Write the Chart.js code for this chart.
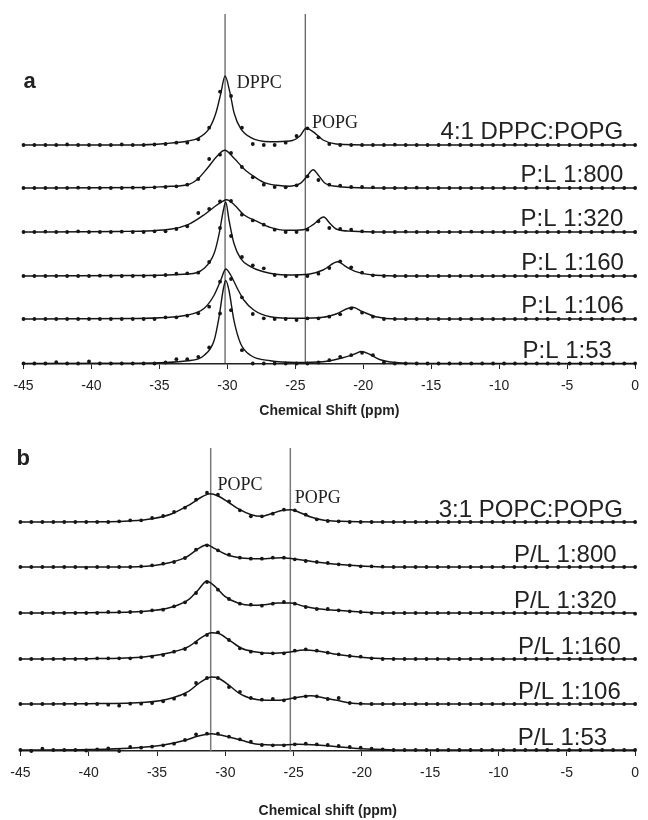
<!DOCTYPE html>
<html><head><meta charset="utf-8">
<script src="https://cdn.jsdelivr.net/npm/chart.js@4.4.1/dist/chart.umd.min.js"></script>
<style>
html,body{margin:0;padding:0;background:#fff;}
#wrap{position:relative;width:648px;height:820px;}
.panel{position:absolute;left:0;width:648px;}
#pa{top:0;height:420px;}
#pb{top:420px;height:400px;}
</style></head><body>
<div id="wrap">
  <div class="panel" id="pa"><canvas id="ca"></canvas></div>
  <div class="panel" id="pb"><canvas id="cb"></canvas></div>
</div>
<script>
// ---------- DATA ----------
const X_TICKS = [-45,-40,-35,-30,-25,-20,-15,-10,-5,0];
const X_DOTS = [-45,-44.20,-43.39,-42.59,-41.79,-40.98,-40.18,-39.38,-38.57,-37.77,-36.96,-36.16,-35.36,-34.55,-33.75,-32.95,-32.14,-31.34,-30.54,-29.73,-28.93,-28.13,-27.32,-26.52,-25.71,-24.91,-24.11,-23.30,-22.50,-21.70,-20.89,-20.09,-19.29,-18.48,-17.68,-16.88,-16.07,-15.27,-14.46,-13.66,-12.86,-12.05,-11.25,-10.45,-9.64,-8.84,-8.04,-7.23,-6.43,-5.63,-4.82,-4.02,-3.21,-2.41,-1.61,-0.80,0];

// panel a
const LABELS_A = ['4:1 DPPC:POPG','P:L 1:800','P:L 1:320','P:L 1:160','P:L 1:106','P:L 1:53'];
const OFFSETS_A = [219,176,132,88,45,0.5];
const PEAK_LINES_A = [-30.17,-24.27];
const PEAK_NAMES_A = ['DPPC','POPG'];

const CURVE_A_41 = [[-45,0],[-37,0],[-34.5,1.5],[-32.9,4],[-32.18,6.7],[-31.33,16.7],[-30.85,31.7],[-30.48,51.7],[-30.17,69],[-29.8,51.7],[-29.5,31.7],[-29.03,16.7],[-28.3,7.7],[-26.85,3.3],[-25.39,4],[-24.66,9],[-24.2,16.7],[-23.7,13.3],[-22.96,5],[-22.0,1],[-19,0],[0,0]];
const CURVE_A_800 = [[-45,0],[-36,0.5],[-34.5,1.5],[-32.91,3.3],[-32.18,9],[-31.46,20],[-30.73,32.3],[-30.19,37.7],[-29.52,30],[-28.79,19.3],[-28.06,11.7],[-27.33,5.7],[-26.36,2.7],[-25.39,1.7],[-24.66,4.3],[-24.18,11],[-23.69,18.3],[-23.33,13.3],[-22.84,5],[-22.0,1.7],[-19.57,0],[0,0]];
const CURVE_A_320 = [[-45,0],[-38,0.5],[-34.1,3],[-32.9,7.3],[-31.7,17.3],[-30.97,25],[-30.36,30.7],[-30.05,32.3],[-29.5,27.3],[-28.79,17.3],[-27.82,10.7],[-26.85,4.7],[-25.63,1.7],[-24.42,2.3],[-23.69,7.3],[-22.91,15],[-22.48,9],[-22.0,3],[-20.78,0.7],[-19,0],[0,0]];
const CURVE_A_160 = [[-45,0],[-37,0.5],[-32.9,2],[-31.7,7.7],[-30.97,22.7],[-30.6,42.7],[-30.29,66],[-30.12,74],[-29.88,56],[-29.52,32.7],[-29.03,17.7],[-28.3,9.3],[-27.33,4.3],[-25.63,1],[-23.93,2],[-22.96,6],[-21.87,14.3],[-21.27,9.3],[-20.54,4.3],[-19.08,0.7],[-17,0],[0,0]];
const CURVE_A_106 = [[-45,0],[-37,0.5],[-32.9,4],[-31.7,10.7],[-30.97,24],[-30.48,39],[-30.12,50],[-29.76,44],[-29.27,30.7],[-28.79,19],[-28.06,9],[-26.85,2.3],[-24.9,0.7],[-22.96,1.7],[-22.0,5],[-20.78,11.7],[-20.05,7.3],[-19.08,2.3],[-17.5,0],[0,0]];
const CURVE_A_53 = [[-45,0],[-37,0.3],[-32.9,2.7],[-31.7,8.3],[-30.97,23.3],[-30.61,46.7],[-30.29,75],[-30.12,83],[-29.88,73],[-29.52,43.3],[-29.03,20],[-28.3,8.3],[-26.85,2.7],[-24.9,1],[-22.96,1.7],[-21.5,5.7],[-20.54,10],[-20.15,12],[-19.5,9],[-18.8,4],[-17.8,1.2],[-16.5,0.3],[-15,0],[0,0]];

const DOTS_A_41 = [0,0,0,0,0.5,0,0,0,0,0.5,0, 0,0.5,1,2.3,2.3,5.7,17.3,53.3,49,17.3, 1,0,0,2.3,9,16.7,7.7,1,0,0, 0,0,0,0.3,0,0,0,0,0.3,0, 0,0,0,0,0.3,0,0,0,0,0, 0,0,0.3,0,0,0];
const DOTS_A_800 = [0,0,0,0,0,0.3,0,0,0,0,0.3, 0,0.7,1,1.7,3.3,9,29,33.3,35,21, 10.7,3.3,1,0.7,2.7,11.7,8,3.3,2.3,1, 1,0.7,0,0,0,0.3,0,0,0,0, 0,0,0,0,0,0,0.3,0,0,0, 0,0,0,0,0,0];
const DOTS_A_320 = [0,0,0.3,0,0,0.7,0,0,0,0.3,0, 0,0.7,0.7,3,5.7,19,23,30.6,31,17.3, 11.6,7.3,2.3,0,0,2.3,10.7,4,3,2.3, 0.7,0,0,0,0.3,0,0,0,0,0, 0.3,0,0,0,0,0,0,0,0,0.3, 0,0,0,0.3,0,0];
const DOTS_A_160 = [0,0,0,0,0,0,0,0.3,0,0,0, 0,0,1,2.3,2.7,3.3,14,48,40,19, 10.7,7.7,1,0,0,0,2.3,8,14.7,8.7, 3.3,0.7,0,0,0,0,0,0,0,0, 0,0,0,0,0,0,0,0,0,0, 0,0,0,0,0,0];
const DOTS_A_106 = [0,0,0,0,0,0,0,0,0,0,0, 0,0,1.7,1.7,3.3,5.7,12.3,37.3,40,21.7, 5,0.7,0,0,-1,0.7,0.7,2.3,4.7,10.7, 6.3,2.3,0,0,0,0,0,0,0,0, 0,0,0,0,0,0,0,0,0,0, 0,0,0,0,0,0];
const DOTS_A_53 = [0,0,0,1.3,0,0,2,0,0,0,0, 0,0,1,4.3,4.3,6.7,16,50,53.3,13.3, 0,0,0,0,0,0,1,3.3,6.7,8.3, 10.7,8.3,1,0,0,0,0,0,0,0, 0,0,0,0,0,0,0,0,0,0, 0,0,0,0,0,0];

// panel b
const LABELS_B = ['3:1 POPC:POPG','P/L 1:800','P/L 1:320','P/L 1:160','P/L 1:106','P/L 1:53'];
const OFFSETS_B = [229,184,138,92,47,1];
const PEAK_LINES_B = [-31.07,-25.24];
const PEAK_NAMES_B = ['POPC','POPG'];

const CURVE_B_31 = [[-45,0],[-38.5,0.3],[-37.05,1],[-35.35,3.3],[-33.9,8.3],[-32.69,16.7],[-31.73,25],[-31.12,28.3],[-30.52,26],[-29.79,20],[-29.07,13.3],[-28.1,7.3],[-27.37,5.7],[-26.65,8.3],[-25.8,11.7],[-25.19,12.3],[-24.47,9],[-23.74,5],[-22.77,1.7],[-21.56,0.7],[-19,0],[0,0]];
const CURVE_B_800 = [[-45,0],[-37.05,0],[-34.63,2.7],[-32.93,9.3],[-31.97,18.3],[-31.36,22.3],[-30.76,18.3],[-29.79,11.7],[-28.94,9.3],[-27.37,8.3],[-25.92,9.3],[-24.95,8],[-23.74,5.7],[-22.29,3.3],[-20.84,1.7],[-18.9,0.3],[-17,0],[0,0]];
const CURVE_B_320 = [[-45,0],[-40,0.3],[-35.84,1.7],[-33.9,6],[-32.69,13.3],[-31.97,23.3],[-31.36,31.7],[-30.76,26.7],[-30.03,16.7],[-29.07,10],[-28.1,7.7],[-27.13,8.3],[-26.16,10],[-25.19,10],[-24.23,6.7],[-23.26,4.3],[-21.81,2.7],[-20.11,1],[-18.9,0],[0,0]];
const CURVE_B_160 = [[-45,0],[-40,0.3],[-35.84,2.3],[-33.9,6.7],[-32.69,12.3],[-31.73,21.7],[-31.0,26.3],[-30.52,25.7],[-29.79,19.7],[-28.82,10.7],[-27.85,7.3],[-26.65,5.7],[-25.44,6.7],[-24.23,9],[-23.26,8],[-22.05,5],[-20.84,3],[-19.39,1],[-17,0],[0,0]];
const CURVE_B_106 = [[-45,0],[-40,0.3],[-35.84,1.7],[-33.9,6],[-32.69,12.7],[-31.73,22.7],[-31.0,27],[-30.52,26],[-29.79,19.3],[-28.82,9.3],[-27.61,4.3],[-26.16,3.7],[-24.95,6],[-23.74,8.3],[-22.77,6],[-21.81,3.7],[-20.84,1],[-19,0],[0,0]];
const CURVE_B_53 = [[-45,0],[-40,0.5],[-37.05,1.7],[-34.63,4.7],[-32.93,9.7],[-31.97,14],[-31.0,16.3],[-30.03,14],[-28.82,9.7],[-27.61,5.7],[-26.16,5],[-24.71,5.7],[-23.26,5],[-21.81,3.3],[-20.6,1.7],[-18.9,0.7],[-17,0],[0,0]];

const DOTS_B_31 = [0,0,0,0,0,0, 0,0,0,0.7,1.7,1.7,4,6,10,14.3, 22.3,29.3,27.3,20.7,11.7,5.7,5.7,8.3,12.3,11.7, 7.3,2.7,1,0.7,0,0,0, 0,0,0,0,0,0,0,0,0,0, 0,0,0,0,0,0,0,0,0,0,0,0,0,0];
const DOTS_B_800 = [0,0,0,0,0,0, -0.7,0,0,0,0,0.7,1.7,3.3,5,9, 17.3,21.7,16.7,12.3,9.3,8.3,8.3,9.3,9.3,7.7, 6,5,4,2.7,1.7,0.7,0.7, 0.3,0,0,0,0,0,0,0,0,0, 0,0,0,0,0,0,0,0,0,0,0,0,0,0];
const DOTS_B_320 = [0,0,0,0,0,0, 0,0,1,1,1,1,2.7,3.3,6.7,10.7, 20,31,23.3,14,9.3,8.3,7.3,9.3,11,9.3, 6,4,4,2.7,1.7,1,0, 0,0,0,0,0,0,0,0,0,0, 0,0,0,0,0,0,0,0,0,0,0,0,0,-0.7];
const DOTS_B_160 = [0,0,0,0,0,0, 0,0.7,0.7,0.7,0.7,1.7,2.3,4,7.3,10, 16.3,24,26.7,19,10.7,7.3,5.7,5.7,5.7,8.3, 9.7,8.3,6.3,4.7,3,2.3,0.7, 0,0,0,0,0,0,0,0,0,0, 0,0,0,0,0,0,0,0,0,0,0,0,0,0];
const DOTS_B_106 = [0,0,0,0,0,0, 0,0,-0.7,-1.7,0.3,0.3,1,2.7,5.3,9.3, 21,26,26,17,12,6,4.3,5,3.7,6, 7.7,7.7,5,6,1,0.3,0, 0,0,0,0,0,0,0,0,0,0, 0,0,0,0,0,0,0,0,0,0,0,0,0,0];
const DOTS_B_53 = [0,-1,1.3,0,0,0, -0.5,0.7,1.5,-1,3,2.3,3.3,4.7,6.3,10, 15.7,16.3,16.3,13.3,10.7,8.3,5,4.7,4.7,5.7, 6.3,5.7,5,4,3,2.3,1.3, 0.7,0,0,0,0,0,0,0,0,0, 0,0,0,0,0,0,0,0,0,0,0,0,0,0];

const CURVES_A = [CURVE_A_41,CURVE_A_800,CURVE_A_320,CURVE_A_160,CURVE_A_106,CURVE_A_53];
const DOTS_A = [DOTS_A_41,DOTS_A_800,DOTS_A_320,DOTS_A_160,DOTS_A_106,DOTS_A_53];
const CURVES_B = [CURVE_B_31,CURVE_B_800,CURVE_B_320,CURVE_B_160,CURVE_B_106,CURVE_B_53];
const DOTS_B = [DOTS_B_31,DOTS_B_800,DOTS_B_320,DOTS_B_160,DOTS_B_106,DOTS_B_53];

// ---------- RENDER ----------
const SANS = '"Liberation Sans", Arial, sans-serif';
const SERIF = '"Liberation Serif", "Times New Roman", serif';

const textPlugin = {
  id: 'texts',
  afterDatasetsDraw(chart, args, opts) {
    const {ctx, scales} = chart;
    const x = scales.x, y = scales.y;
    ctx.save();
    for (const t of opts.items || []) {
      ctx.font = t.font;
      ctx.fillStyle = t.color || '#222';
      ctx.textAlign = t.align || 'left';
      ctx.textBaseline = 'alphabetic';
      ctx.fillText(t.text, x.getPixelForValue(t.x), y.getPixelForValue(t.y));
    }
    ctx.restore();
  }
};

function buildDatasets(curves, dots, offsets, peakLines, yMax, vColor, vWidth, lineW) {
  const ds = [];
  curves.forEach((c, k) => {
    ds.push({
      data: c.map(p => ({x: p[0], y: p[1] + offsets[k]})),
      borderColor: '#151515', borderWidth: lineW, pointRadius: 0,
      cubicInterpolationMode: 'monotone', fill: false, clip: false, order: 2
    });
    ds.push({
      data: X_DOTS.map((xv, i) => ({x: xv, y: dots[k][i] + offsets[k]})),
      showLine: false, pointRadius: 1.9, pointBackgroundColor: '#151515',
      pointBorderWidth: 0, borderColor: '#151515', clip: false, order: 1
    });
  });
  peakLines.forEach(v => {
    ds.push({
      data: [{x: v, y: 0}, {x: v, y: yMax}],
      borderColor: vColor, borderWidth: vWidth, pointRadius: 0, fill: false, clip: false, order: 3
    });
  });
  return ds;
}

function makeChart(id, cfg) {
  return new Chart(document.getElementById(id), {
    type: 'line',
    data: {datasets: buildDatasets(cfg.curves, cfg.dots, cfg.offsets, cfg.peakLines, cfg.yMax, cfg.vColor, cfg.vWidth, cfg.lineW)},
    plugins: [textPlugin],
    options: {
      responsive: true, maintainAspectRatio: false, animation: false, devicePixelRatio: 1,
      events: [],
      layout: {padding: cfg.padding},
      plugins: {legend: {display: false}, tooltip: {enabled: false}, texts: {items: cfg.texts}},
      scales: {
        x: {
          type: 'linear', min: -45, max: 0,
          afterBuildTicks: s => { s.ticks = X_TICKS.map(v => ({value: v})); },
          afterFit: s => { s.height = cfg.xHeight; },
          ticks: {font: {family: SANS, size: 14}, color: '#222', padding: 9, maxRotation: 0, autoSkip: false,
                  callback: v => String(v)},
          grid: {display: true, drawOnChartArea: false, drawTicks: true, tickLength: 5, color: '#222', lineWidth: 1},
          border: {display: true, color: '#222', width: 1.5},
          title: {display: true, text: cfg.title, color: '#222',
                  font: {family: SANS, size: 14, weight: 'bold'}, padding: {top: 0, bottom: cfg.titlePad}}
        },
        y: {type: 'linear', display: false, min: 0, max: cfg.yMax}
      }
    }
  });
}

const labelFont = '24px ' + SANS;
const peakFont = '18px ' + SERIF;
const letterFont = 'bold 22px ' + SANS;

// panel a text anchors (ppm, intensity units)
const LABEL_RIGHT_A = [-0.87,-0.87,-0.87,-0.82,-0.82,-1.71];
const textsA = LABELS_A.map((t, k) => ({text: t, x: LABEL_RIGHT_A[k], y: OFFSETS_A[k] + 6, font: labelFont, align: 'right', color: '#222'}));
textsA.push({text: PEAK_NAMES_A[0], x: -29.31, y: 276, font: peakFont, color: '#222'});
textsA.push({text: PEAK_NAMES_A[1], x: -23.78, y: 236, font: peakFont, color: '#222'});
textsA.push({text: 'a', x: -45, y: 276, font: letterFont, color: '#222'});

const LABEL_RIGHT_B = [-0.9,-1.35,-1.35,-1.05,-1.05,-2.05];
const textsB = LABELS_B.map((t, k) => ({text: t, x: LABEL_RIGHT_B[k], y: OFFSETS_B[k] + 5, font: labelFont, align: 'right', color: '#222'}));
textsB.push({text: PEAK_NAMES_B[0], x: -30.57, y: 261, font: peakFont, color: '#222'});
textsB.push({text: PEAK_NAMES_B[1], x: -24.91, y: 248, font: peakFont, color: '#222'});
textsB.push({text: 'b', x: -45.28, y: 286, font: letterFont, color: '#222'});

makeChart('ca', {
  curves: CURVES_A, dots: DOTS_A, offsets: OFFSETS_A, peakLines: PEAK_LINES_A,
  yMax: 350, vColor: '#333', vWidth: 1, lineW: 1.4,
  padding: {left: 23.5, right: 5.3, top: 14, bottom: 0}, xHeight: 56, titlePad: 0.6,
  title: 'Chemical Shift (ppm)', texts: textsA
});
makeChart('cb', {
  curves: CURVES_B, dots: DOTS_B, offsets: OFFSETS_B, peakLines: PEAK_LINES_B,
  yMax: 303, vColor: '#7a7a7a', vWidth: 1.5, lineW: 1.5,
  padding: {left: 20.4, right: 7.5, top: 28, bottom: 0}, xHeight: 69, titlePad: 0,
  title: 'Chemical shift (ppm)', texts: textsB
});
</script>
</body></html>
